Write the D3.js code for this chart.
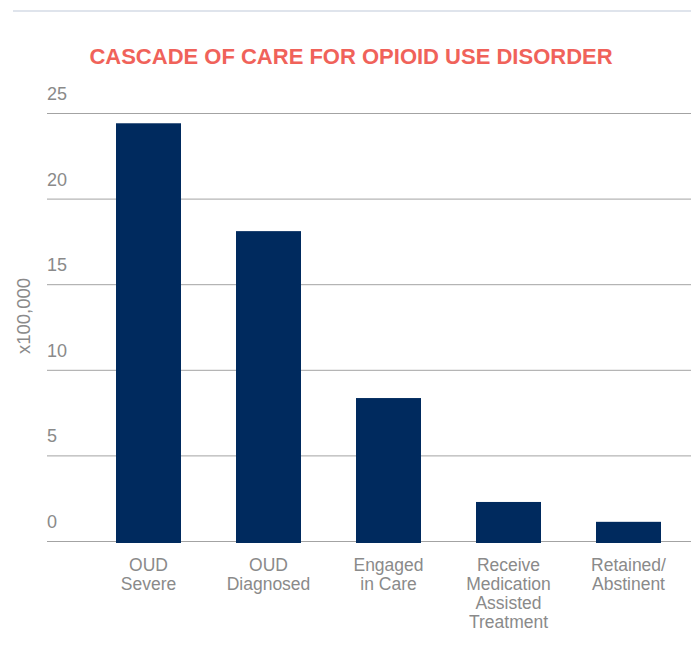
<!DOCTYPE html>
<html><head><meta charset="utf-8">
<script src="https://cdn.jsdelivr.net/npm/d3@7"></script>
<style>body{margin:0;background:#fff}svg{display:block}</style>
</head><body>
<script>
const categories = [["OUD","Severe"],["OUD","Diagnosed"],["Engaged","in Care"],["Receive","Medication","Assisted","Treatment"],["Retained/","Abstinent"]];
const values = [24.4, 18.1, 8.35, 2.28, 1.12];
const yTicks = [0,5,10,15,20,25];
const title = "CASCADE OF CARE FOR OPIOID USE DISORDER";
const yLabel = "x100,000";

const W=691,H=656;
const svg=d3.select("body").append("svg").attr("width",W).attr("height",H);
const font="'Liberation Sans', Arial, Helvetica, sans-serif";

svg.append("line").attr("x1",13).attr("x2",W).attr("y1",11).attr("y2",11)
  .attr("stroke","#dfe4ec").attr("stroke-width",2);

svg.append("text").attr("x",351).attr("y",64).attr("text-anchor","middle")
  .attr("font-family",font).attr("font-weight","bold").attr("font-size",22)
  .attr("fill","#f0625a").text(title);

const x=d3.scaleBand().domain(d3.range(categories.length)).range([116,661]).paddingInner(55/120).paddingOuter(0);
const y=d3.scaleLinear().domain([0,25]).range([541,113]);

const g=svg.append("g");
g.selectAll("line.grid").data(yTicks).join("line").attr("class","grid")
  .attr("x1",47).attr("x2",W).attr("y1",d=>y(d)+0.5).attr("y2",d=>y(d)+0.5)
  .attr("stroke","#a3a3a3").attr("stroke-width",1);
g.selectAll("text.tick").data(yTicks).join("text").attr("class","tick")
  .attr("x",47).attr("y",d=>y(d)-13).attr("font-family",font).attr("font-size",18)
  .attr("fill","#8a8a8a").text(d=>d);

g.selectAll("rect").data(values).join("rect")
  .attr("x",(d,i)=>x(i)).attr("width",x.bandwidth())
  .attr("y",d=>y(d)).attr("height",d=>y(0)+2-y(d)).attr("fill","#002a5e");

const lab=g.selectAll("text.cat").data(categories).join("text").attr("class","cat")
  .attr("x",(d,i)=>x(i)+x.bandwidth()/2).attr("y",571).attr("text-anchor","middle")
  .attr("font-family",font).attr("font-size",17.5).attr("fill","#8a8a8a");
lab.selectAll("tspan").data(d=>d).join("tspan")
  .attr("x",function(){return this.parentNode.getAttribute("x");})
  .attr("dy",(d,i)=>i?19:0).text(d=>d);

svg.append("text").attr("transform","translate(30,316) rotate(-90)").attr("text-anchor","middle")
  .attr("font-family",font).attr("font-size",18.5).attr("fill","#8a8a8a").text(yLabel);
</script>
</body></html>
